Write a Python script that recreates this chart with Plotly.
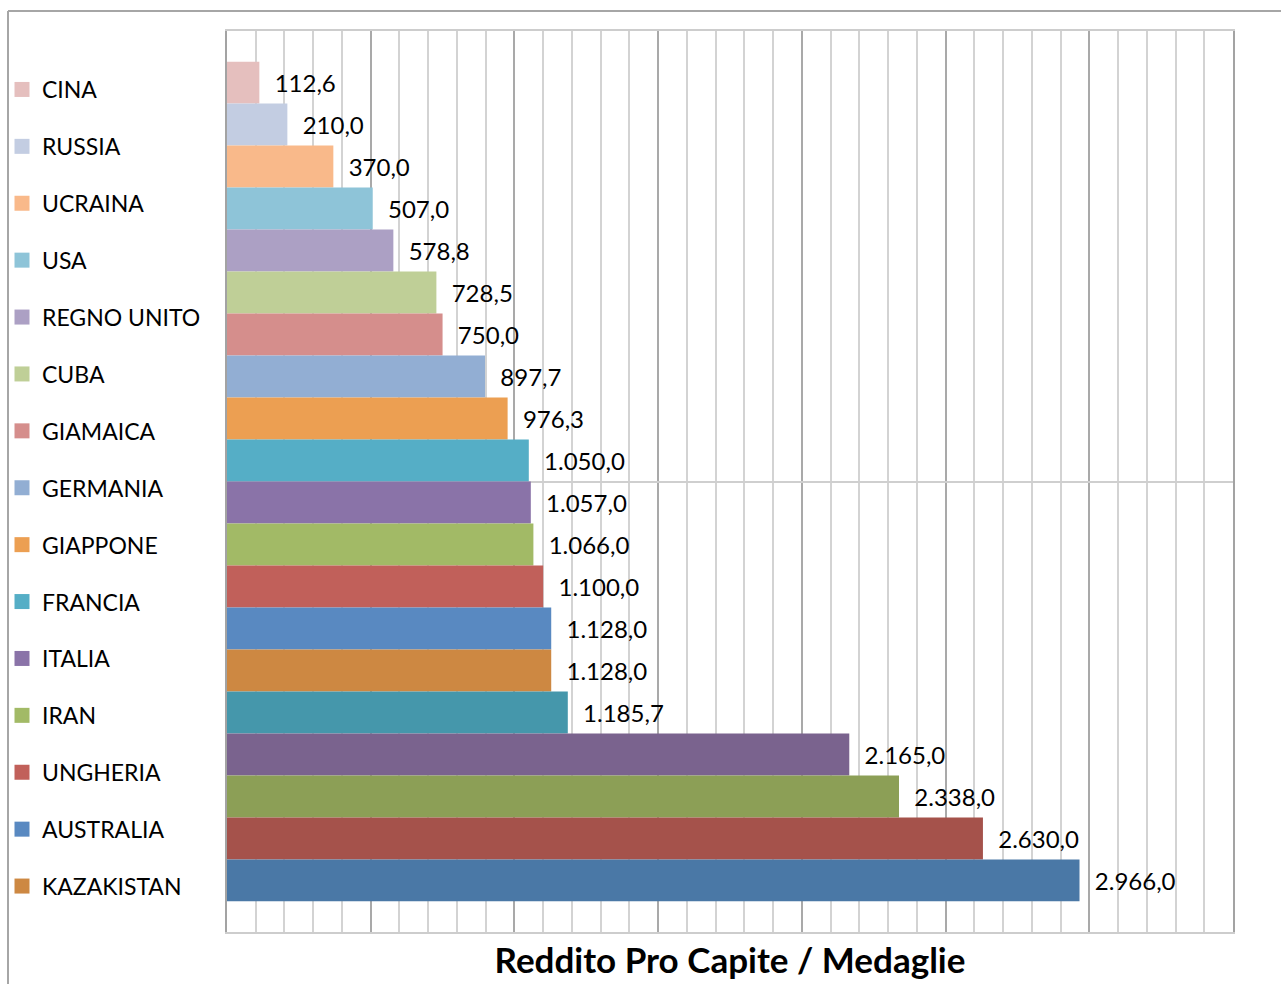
import plotly.graph_objects as go

# Series names shown in the legend (the chart legend lists the first fifteen)
countries = ["CINA", "RUSSIA", "UCRAINA", "USA", "REGNO UNITO", "CUBA", "GIAMAICA",
             "GERMANIA", "GIAPPONE", "FRANCIA", "ITALIA", "IRAN", "UNGHERIA",
             "AUSTRALIA", "KAZAKISTAN"]

# Income per capita / medals, one value per series
values = [112.6, 210.0, 370.0, 507.0, 578.8, 728.5, 750.0, 897.7, 976.3, 1050.0,
          1057.0, 1066.0, 1100.0, 1128.0, 1128.0, 1185.7, 2165.0, 2338.0, 2630.0, 2966.0]

colors = ["#E5BFBE", "#C3CDE2", "#F9B98A", "#8EC4D8", "#ACA0C4", "#BFCF97", "#D58E8C",
          "#92AED3", "#EC9F52", "#55AEC6", "#8A73A8", "#A2BA66", "#C1605A", "#5989C1",
          "#CD8842", "#4597AB", "#7A638E", "#8C9F56", "#A5524B", "#4A78A6"]

category = [0]
axis_title = "Reddito Pro Capite / Medaglie"

W, H = 1281, 984
L, R, T, B = 227, 1233, 31, 932
FONT = "Lato"


def px_x(px):
    return (px - L) / (R - L)


def px_y(py):
    return (B - py) / (B - T)


fig = go.Figure()
for i, (v, c) in enumerate(zip(values, colors)):
    name = countries[i] if i < len(countries) else None
    fig.add_trace(go.Bar(
        x=[v], y=category, orientation="h",
        marker=dict(color=c, line=dict(width=0)),
        name=name, legendgroup=name, showlegend=False,
        texttemplate="\u00a0\u00a0%{x:,.1f}",
        textposition="outside", cliponaxis=False,
        textfont=dict(family=FONT, size=24, color="#000000"),
        hoverinfo="x+name",
    ))
    if name is not None:
        # square legend key for this series
        fig.add_trace(go.Scatter(
            x=[None], y=[None], mode="markers",
            marker=dict(symbol="square", size=15, color=c, line=dict(width=0)),
            name=name, legendgroup=name, showlegend=True,
        ))

# outer chart frame (left and top edges)
fig.add_shape(type="line", xref="paper", yref="paper",
              x0=px_x(8), x1=px_x(8), y0=px_y(11), y1=px_y(H + 5),
              line=dict(color="#A6A6A6", width=2))
fig.add_shape(type="line", xref="paper", yref="paper",
              x0=px_x(8), x1=px_x(W + 5), y0=px_y(11), y1=px_y(11),
              line=dict(color="#A6A6A6", width=2))

fig.update_layout(
    width=W, height=H,
    margin=dict(l=L, r=W - R, t=T, b=H - B, autoexpand=False),
    paper_bgcolor="white", plot_bgcolor="white",
    barmode="group", bargap=0.068, bargroupgap=0,
    separators=",.",
    font=dict(family=FONT, color="#000000"),
    showlegend=True,
    legend=dict(
        xref="container", yref="container",
        x=2 / W, y=1 - 68 / H, xanchor="left", yanchor="top",
        font=dict(family=FONT, size=23, color="#000000"),
        tracegroupgap=24, itemsizing="trace", maxheight=950,
        bgcolor="rgba(0,0,0,0)", borderwidth=0,
    ),
    xaxis=dict(
        range=[0, 3500], tick0=0, dtick=500,
        showgrid=True, gridcolor="#A9A9A9", gridwidth=2,
        minor=dict(dtick=100, showgrid=True, gridcolor="#D3D3D3", gridwidth=2),
        showticklabels=False, ticks="", zeroline=False,
        showline=True, mirror=True, linecolor="#CDCDCD", linewidth=2,
        fixedrange=True,
        title=dict(text=axis_title, standoff=15,
                   font=dict(family=FONT, size=35, color="#000000", weight=700)),
    ),
    yaxis=dict(
        type="category", autorange="reversed",
        showgrid=True, gridcolor="#CFCFCF", gridwidth=2,
        showticklabels=False, ticks="", zeroline=False,
        showline=True, mirror=True, linecolor="#A3A3A3", linewidth=2,
        fixedrange=True,
    ),
)

fig.write_html("out.html")
